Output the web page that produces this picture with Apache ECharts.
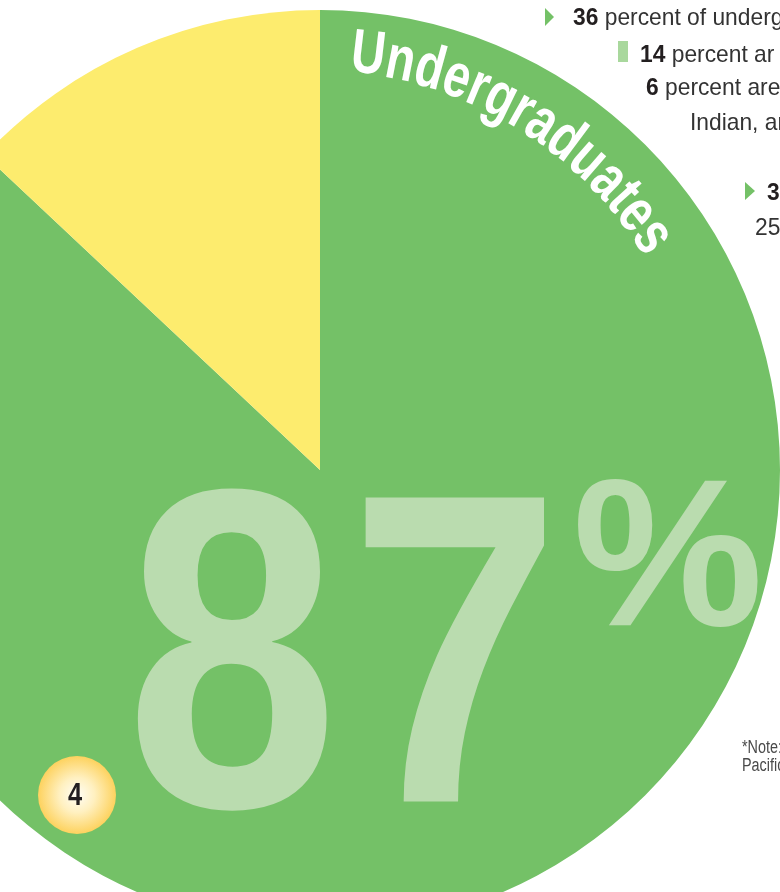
<!DOCTYPE html>
<html>
<head>
<meta charset="utf-8">
<script src="https://cdn.jsdelivr.net/npm/echarts@6/dist/echarts.min.js"></script>
<style>
  html, body { margin: 0; padding: 0; background: #fff; }
  #main { width: 780px; height: 892px; }
</style>
</head>
<body>
<div id="main"></div>
<script>
// data
var groups = ['Undergraduates', 'Other students'];
var shares = [87, 13];
var pageNo = '4';
var factBold = ['36', '14', '6', '', '3', ''];
var factText = [' percent of underg', ' percent ar', ' percent are', 'Indian, ar', '', '25'];
var noteText = ['*Note:', 'Pacific'];

// no narrow face installed, so condense the regular one
var SANS = '"Liberation Sans", Arial, sans-serif';
var CX = 320, CY = 470, R = 460;
var LIGHT = '#BADCAF';

// "middle" sits about 0.295em above the alphabetic baseline (measured)
function mid(baseline, size) {
  return baseline - 0.295 * size;
}

// letters along an arc round the pie centre, radius easing from r0 to r1
function arcLetters(text, size, sx, r0, r1, startDeg) {
  var ctx = document.createElement('canvas').getContext('2d');
  ctx.font = 'bold ' + size + 'px ' + SANS;
  var widths = [], total = 0;
  for (var i = 0; i < text.length; i++) {
    widths.push(ctx.measureText(text[i]).width * sx);
    total += widths[i];
  }
  var out = [];
  var cum = 0;
  var th = startDeg * Math.PI / 180;
  for (var j = 0; j < text.length; j++) {
    var w = widths[j];
    var baseR = r0 + (r1 - r0) * (cum + w / 2) / total;
    var a = th + (w / 2) / baseR;
    var midR = baseR + 0.295 * size;
    out.push({
      type: 'text',
      z: 100,
      x: CX + midR * Math.sin(a),
      y: CY - midR * Math.cos(a),
      rotation: -a,
      scaleX: sx,
      style: {
        text: text[j],
        x: 0, y: 0,
        align: 'center',
        verticalAlign: 'middle',
        fontFamily: SANS,
        fontWeight: 'bold',
        fontSize: size,
        fill: '#ffffff'
      }
    });
    th += w / baseR;
    cum += w;
  }
  return out;
}

function bigGlyph(ch, cx, baseline, size, sx) {
  return {
    type: 'text',
    z: 90,
    x: cx,
    y: mid(baseline, size),
    scaleX: sx,
    style: {
      text: ch,
      x: 0, y: 0,
      align: 'center',
      verticalAlign: 'middle',
      fontFamily: SANS,
      fontWeight: 'bold',
      fontSize: size,
      fill: LIGHT
    }
  };
}

function plainText(str, x, baseline, size, sx, color, bold) {
  return {
    type: 'text', z: 100, x: x, y: mid(baseline, size), scaleX: sx,
    style: {
      text: str, x: 0, y: 0, align: 'left', verticalAlign: 'middle',
      fontFamily: SANS, fontWeight: bold ? 'bold' : 'normal', fontSize: size, fill: color
    }
  };
}

var graphics = [];

// big "87%"
var digits = String(shares[0]);
graphics.push(bigGlyph(digits[0], 232, 815, 455, 0.84));
graphics.push(bigGlyph(digits[1], 455, 810, 442, 0.86));
graphics.push(bigGlyph('%', 668, 629, 210, 1.02));

// curved title
graphics = graphics.concat(arcLetters(groups[0], 62, 0.76, 399, 387, 4.2));

// side facts
var factPos = [[573, 25], [640, 62], [646, 95], [690, 130], [767, 200], [755, 235]];
for (var i = 0; i < factPos.length; i++) {
  graphics.push({
    type: 'text',
    z: 100,
    x: factPos[i][0],
    y: mid(factPos[i][1], 24),
    scaleX: 0.95,
    style: {
      text: (factBold[i] ? '{b|' + factBold[i] + '}' : '') + factText[i],
      x: 0, y: 0,
      align: 'left',
      verticalAlign: 'middle',
      fontFamily: SANS,
      fontSize: 24,
      fill: '#333333',
      rich: {
        b: { fontFamily: SANS, fontWeight: 'bold', fontSize: 24, fill: '#231F20' }
      }
    }
  });
}
// bullet markers
graphics.push({ type: 'polygon', z: 100, shape: { points: [[545, 8], [554, 17], [545, 26]] }, style: { fill: '#74C167' } });
graphics.push({ type: 'rect', z: 100, shape: { x: 618, y: 41, width: 10, height: 21 }, style: { fill: '#A9D89D' } });
graphics.push({ type: 'polygon', z: 100, shape: { points: [[745, 182], [755, 191], [745, 200]] }, style: { fill: '#74C167' } });

// footnote
graphics.push(plainText(noteText[0], 742, 753, 18, 0.8, '#4a4a4a', false));
graphics.push(plainText(noteText[1], 742, 771, 18, 0.8, '#4a4a4a', false));

// page badge
graphics.push({
  type: 'circle', z: 100,
  shape: { cx: 77, cy: 795, r: 39 },
  style: {
    fill: {
      type: 'radial', x: 0.5, y: 0.5, r: 0.5,
      colorStops: [
        { offset: 0, color: '#FFFEF6' },
        { offset: 0.45, color: '#FFF0C0' },
        { offset: 1, color: '#FDD25E' }
      ]
    }
  }
});
graphics.push({
  type: 'text', z: 101, x: 75, y: mid(806, 31), scaleX: 0.82,
  style: { text: pageNo, x: 0, y: 0, align: 'center', verticalAlign: 'middle', fontFamily: SANS, fontWeight: 'bold', fontSize: 31, fill: '#231F20' }
});

var pieData = [];
for (var k = 0; k < groups.length; k++) {
  pieData.push({ name: groups[k], value: shares[k] });
}

var chart = echarts.init(document.getElementById('main'));
var option = {
  animation: false,
  backgroundColor: '#ffffff',
  color: ['#74C167', '#FDEC6E'],
  series: [
    {
      type: 'pie',
      center: [CX, CY],
      radius: R,
      startAngle: 90,
      clockwise: true,
      silent: true,
      label: { show: false },
      labelLine: { show: false },
      itemStyle: { borderWidth: 0 },
      emphasis: { disabled: true },
      data: pieData
    }
  ],
  graphic: { elements: graphics }
};
chart.setOption(option);
</script>
</body>
</html>
